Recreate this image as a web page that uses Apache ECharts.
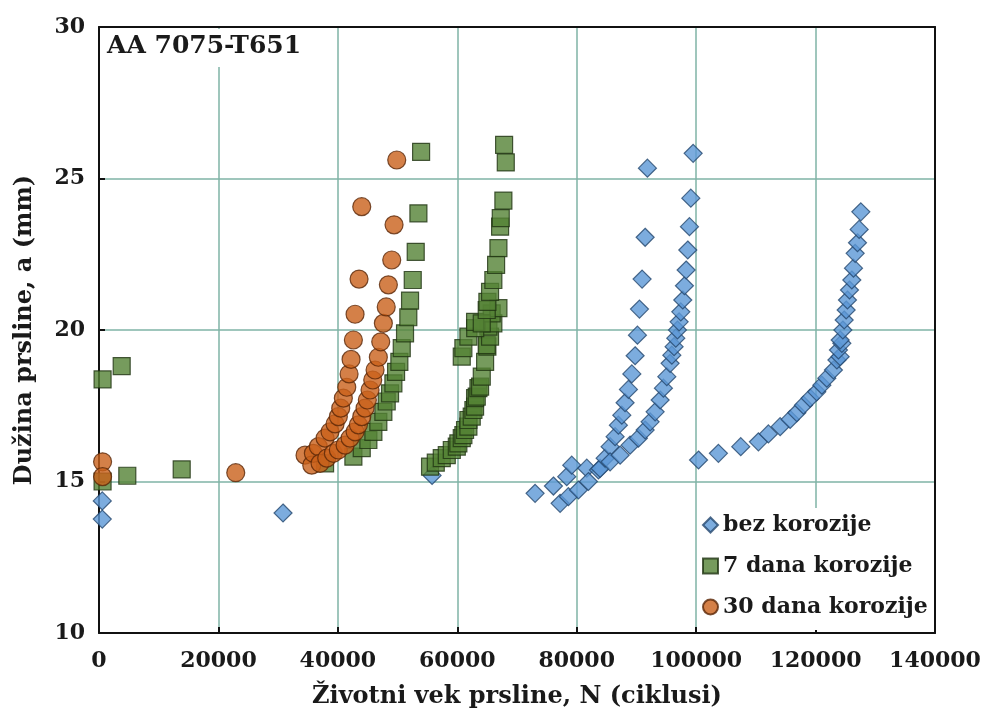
<!DOCTYPE html>
<html>
<head>
<meta charset="utf-8">
<script src="https://cdn.jsdelivr.net/npm/echarts@6/dist/echarts.min.js"></script>
<style>
  html, body { margin: 0; padding: 0; background: #fff; }
  #chart { width: 984px; height: 720px; }
</style>
</head>
<body>
<div id="chart"></div>
<script>
// Crack length a (mm) versus fatigue life N (cycles), AA 7075-T651
const seriesNames = ['bez korozije', '7 dana korozije', '30 dana korozije'];

const bezKorozije = [
  [550, 14.36], [550, 13.76], [30820, 13.96], [55780, 15.2],
  [73030, 14.61], [76100, 14.85], [77220, 14.28], [78330, 15.16], [78610, 14.50],
  [79170, 15.54], [80290, 14.72], [81690, 15.44], [81960, 15.00], [83640, 15.38],
  [83920, 15.43],
  [84760, 15.77], [85590, 16.15], [86430, 16.48], [86980, 16.86], [87550, 17.19],
  [88100, 17.60], [88660, 18.04], [89230, 18.55], [89780, 19.15], [90170, 19.83],
  [90510, 20.69], [90950, 21.68], [91460, 23.06], [91840, 25.34],
  [85590, 15.65], [87270, 15.87], [88940, 16.20], [90330, 16.43], [91460, 16.70],
  [92290, 16.97], [93130, 17.30], [93970, 17.69], [94520, 18.08], [95090, 18.46],
  [95640, 18.90], [95930, 19.17], [96310, 19.45], [96590, 19.73], [96870, 20.00],
  [97150, 20.27], [97430, 20.60], [97760, 20.99], [98040, 21.46], [98320, 21.98],
  [98600, 22.64], [98880, 23.41], [99110, 24.35], [99500, 25.83],
  [100400, 15.71], [103730, 15.93], [107470, 16.15], [110430, 16.31], [112100, 16.57],
  [114070, 16.81], [115740, 17.05], [116860, 17.27], [117970, 17.52], [119090, 17.75],
  [120200, 17.96], [121050, 18.18], [121880, 18.41], [122990, 18.68], [123570, 19.01],
  [124120, 19.12], [123830, 19.34], [124400, 19.56], [124120, 19.67], [124570, 20.00],
  [124790, 20.33], [125120, 20.66], [125340, 20.99], [125680, 21.32], [126070, 21.65],
  [126350, 22.04], [126630, 22.53], [127020, 22.88], [127300, 23.32], [127580, 23.90]
];

const dana7 = [
  [600, 18.37], [3800, 18.81], [600, 15.0], [4740, 15.19], [13850, 15.40],
  [37860, 15.60], [42600, 15.82], [44000, 16.10], [45110, 16.37], [45950, 16.64],
  [46780, 16.97], [47620, 17.30], [48180, 17.64], [48740, 17.91], [49300, 18.24],
  [49750, 18.62], [50300, 18.95], [50700, 19.40], [51250, 19.89], [51800, 20.42],
  [52090, 20.97], [52540, 21.65], [53040, 22.58], [53490, 23.85], [53940, 25.88],
  [55440, 15.49], [56400, 15.62], [57400, 15.77], [58240, 15.87], [59080, 16.04],
  [59920, 16.15], [60180, 16.26], [60750, 16.43], [61020, 16.53], [61300, 16.70],
  [61860, 16.81], [61860, 17.03], [62420, 17.14], [62700, 17.36], [62980, 17.47],
  [62980, 17.75], [63260, 17.80], [63540, 18.08], [63820, 18.13], [64100, 18.46],
  [64660, 18.95], [65040, 19.45], [64930, 19.50], [65490, 19.78], [65210, 20.11],
  [66040, 20.22], [65760, 20.55], [66890, 20.72],
  [60750, 19.12], [61020, 19.40], [61860, 19.78], [63000, 20.06], [62980, 20.27],
  [64100, 20.22], [64930, 20.66], [65040, 20.93], [65490, 21.26], [66040, 21.65],
  [66500, 22.15], [66890, 22.70], [67170, 23.41], [67280, 23.69], [67720, 24.27],
  [68120, 25.53], [67840, 26.11]
];

const dana30 = [
  [600, 15.65], [600, 15.16], [22900, 15.29],
  [34500, 15.87], [35630, 15.54], [35900, 15.93], [36730, 16.15], [37860, 16.43],
  [38690, 16.64], [39530, 16.90], [40080, 17.14], [40480, 17.42], [40920, 17.75],
  [41490, 18.11], [41880, 18.55], [42210, 19.03], [42600, 19.67], [42880, 20.52],
  [43550, 21.68], [44000, 24.07],
  [37020, 15.60], [38140, 15.77], [39250, 15.93], [40080, 16.04], [41210, 16.20],
  [42040, 16.43], [42880, 16.64], [43440, 16.87], [44000, 17.14], [44550, 17.42],
  [44940, 17.69], [45390, 18.02], [45840, 18.35], [46230, 18.68], [46780, 19.10],
  [47180, 19.61], [47620, 20.22], [48100, 20.76], [48460, 21.49], [49020, 22.31],
  [49410, 23.47], [49860, 25.61]
];

const FONT = '"DejaVu Serif", serif';
const GRID_COLOR = '#7fb3a6';
const FRAME = { color: '#111', width: 2 };

const chart = echarts.init(document.getElementById('chart'), null, { renderer: 'canvas' });

const tickFont = { color: '#1a1a1a', fontFamily: FONT, fontWeight: 'bold', fontSize: 22 };
const titleFont = { color: '#1a1a1a', fontFamily: FONT, fontWeight: 'bold', fontSize: 24 };
const plain = v => String(v);

chart.setOption({
  animation: false,
  backgroundColor: '#ffffff',
  grid: { left: 99, right: 49, top: 27, bottom: 87 },
  xAxis: [
    {
      type: 'value', min: 0, max: 140000, interval: 20000,
      name: 'Životni vek prsline, N (ciklusi)',
      nameLocation: 'middle', nameGap: 52,
      nameTextStyle: titleFont,
      axisLine: { show: true, onZero: false, lineStyle: FRAME },
      axisTick: { show: true, inside: true, length: 6, lineStyle: FRAME },
      axisLabel: Object.assign({ margin: 17, formatter: plain }, tickFont),
      splitLine: { show: true, lineStyle: { color: GRID_COLOR, width: 1.5 } }
    },
    {
      type: 'value', min: 0, max: 140000, interval: 20000, position: 'top',
      axisLine: { show: true, onZero: false, lineStyle: FRAME },
      axisTick: { show: false }, axisLabel: { show: false }, splitLine: { show: false }
    }
  ],
  yAxis: [
    {
      type: 'value', min: 10, max: 30, interval: 5,
      name: 'Dužina prsline, a (mm)',
      nameLocation: 'middle', nameGap: 62, nameRotate: 90,
      nameTextStyle: titleFont,
      axisLine: { show: true, onZero: false, lineStyle: FRAME },
      axisTick: { show: true, inside: true, length: 6, lineStyle: FRAME },
      axisLabel: Object.assign({ margin: 14, formatter: plain }, tickFont),
      splitLine: { show: true, lineStyle: { color: GRID_COLOR, width: 1.5 } }
    },
    {
      type: 'value', min: 10, max: 30, interval: 5, position: 'right',
      axisLine: { show: true, onZero: false, lineStyle: FRAME },
      axisTick: { show: false }, axisLabel: { show: false }, splitLine: { show: false }
    }
  ],
  legend: {
    orient: 'vertical',
    left: 699, top: 508,
    backgroundColor: '#ffffff',
    padding: [6, 3, 12, 3],
    itemGap: 19,
    itemWidth: 15, itemHeight: 15,
    textStyle: { color: '#1a1a1a', fontFamily: FONT, fontWeight: 'bold', fontSize: 22 },
    data: seriesNames
  },
  graphic: [{
    type: 'text', left: 101, top: 29, z: 100,
    style: {
      text: 'AA 7075-T651', fill: '#1a1a1a', font: 'bold 25px ' + FONT,
      backgroundColor: '#ffffff', padding: [5, 6, 8, 6]
    }
  }],
  series: [
    {
      name: seriesNames[0], type: 'scatter', symbol: 'diamond', symbolSize: 18,
      itemStyle: { color: '#5b97d6', borderColor: '#24476e', borderWidth: 1.2 },
      data: bezKorozije, z: 2
    },
    {
      name: seriesNames[1], type: 'scatter', symbol: 'rect', symbolSize: 17,
      itemStyle: { color: '#548235', borderColor: '#1f3311', borderWidth: 1.2 },
      data: dana7, z: 3
    },
    {
      name: seriesNames[2], type: 'scatter', symbol: 'circle', symbolSize: 18,
      itemStyle: { color: '#c9601a', borderColor: '#5a2708', borderWidth: 1.2 },
      data: dana30, z: 4
    }
  ]
});
</script>
</body>
</html>
